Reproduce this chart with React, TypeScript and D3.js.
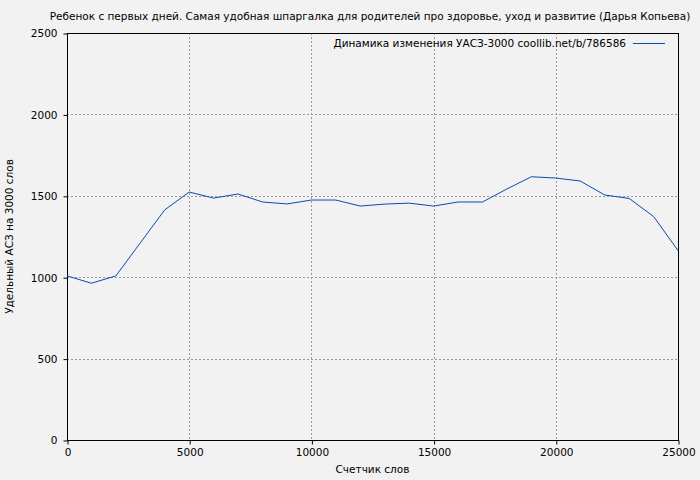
import React, { useEffect, useRef } from 'react';
import * as d3 from 'd3';

const title = 'Ребенок с первых дней. Самая удобная шпаргалка для родителей про здоровье, уход и развитие (Дарья Копьева)';
const legendLabel = 'Динамика изменения УАСЗ-3000 coollib.net/b/786586';
const xLabel = 'Счетчик слов';
const yLabel = 'Удельный АСЗ на 3000 слов';

const wordCounts = [0, 1000, 2000, 3000, 4000, 5000, 6000, 7000, 8000, 9000, 10000, 11000, 12000, 13000, 14000, 15000, 16000, 17000, 18000, 19000, 20000, 21000, 22000, 23000, 24000, 25000];
const values = [1008, 963, 1008, 1211, 1414, 1523, 1486, 1511, 1462, 1450, 1474, 1474, 1437, 1449, 1455, 1437, 1462, 1462, 1542, 1617, 1609, 1591, 1505, 1484, 1373, 1164];
const xTicks = [0, 5000, 10000, 15000, 20000, 25000];
const yTicks = [0, 500, 1000, 1500, 2000, 2500];

const width = 700;
const height = 480;

const App: React.FC = () => {
  const svgRef = useRef<SVGSVGElement>(null);

  useEffect(() => {
    if (!svgRef.current) return;
    const svg = d3.select(svgRef.current);
    svg.selectAll('*').remove();

    const margin = { top: 33, right: 22, bottom: 40, left: 67 };
    const innerWidth = width - margin.left - margin.right;
    const innerHeight = height - margin.top - margin.bottom;
    const font = '"DejaVu Sans", Verdana, sans-serif';
    const fs = '10.5px';

    svg.append('rect').attr('width', width).attr('height', height).attr('fill', '#f2f2f2');

    const g = svg.append('g').attr('transform', `translate(${margin.left},${margin.top})`);

    const x = d3.scaleLinear().domain([0, 25000]).range([0, innerWidth]);
    const y = d3.scaleLinear().domain([0, 2500]).range([innerHeight, 0]);

    // grid
    g.selectAll('.gx')
      .data(xTicks.slice(1, -1))
      .enter().append('line')
      .attr('x1', d => Math.round(x(d)) + 0.5)
      .attr('x2', d => Math.round(x(d)) + 0.5)
      .attr('y1', 0)
      .attr('y2', innerHeight)
      .attr('stroke', '#999')
      .attr('stroke-dasharray', '2,2');
    g.selectAll('.gy')
      .data(yTicks.slice(1, -1))
      .enter().append('line')
      .attr('y1', d => Math.round(y(d)) + 0.5)
      .attr('y2', d => Math.round(y(d)) + 0.5)
      .attr('x1', 0)
      .attr('x2', innerWidth)
      .attr('stroke', '#999')
      .attr('stroke-dasharray', '2,2');

    // frame
    g.append('rect')
      .attr('x', 0.5).attr('y', 0.5)
      .attr('width', innerWidth).attr('height', innerHeight)
      .attr('fill', 'none').attr('stroke', '#000');

    // axes
    const xAxis = g.append('g')
      .attr('transform', `translate(0.5,${innerHeight + 0.5})`)
      .call(d3.axisBottom(x).tickValues(xTicks).tickSize(4).tickPadding(4).tickFormat(d3.format('d')));
    const yAxis = g.append('g')
      .attr('transform', 'translate(0.5,0.5)')
      .call(d3.axisLeft(y).tickValues(yTicks).tickSize(4).tickPadding(6).tickFormat(d3.format('d')));
    [xAxis, yAxis].forEach(a => {
      a.select('.domain').remove();
      a.selectAll('text').style('font-family', font).style('font-size', fs).attr('fill', '#000');
    });

    // line
    const line = d3.line<number>()
      .x((_, i) => x(wordCounts[i]))
      .y(d => y(d));
    g.append('path')
      .datum(values)
      .attr('d', line)
      .attr('fill', 'none')
      .attr('stroke', '#0a4bb0')
      .attr('stroke-width', 1);

    // title
    svg.append('text')
      .attr('x', 370)
      .attr('y', 20)
      .attr('text-anchor', 'middle')
      .style('font-family', font)
      .style('font-size', fs)
      .text(title);

    // legend
    svg.append('text')
      .attr('x', 626)
      .attr('y', 47)
      .attr('text-anchor', 'end')
      .style('font-family', font)
      .style('font-size', fs)
      .text(legendLabel);
    svg.append('line')
      .attr('x1', 633).attr('x2', 665)
      .attr('y1', 43.5).attr('y2', 43.5)
      .attr('stroke', '#0a4bb0');

    // axis titles
    svg.append('text')
      .attr('x', margin.left + innerWidth / 2)
      .attr('y', 473)
      .attr('text-anchor', 'middle')
      .style('font-family', font)
      .style('font-size', fs)
      .text(xLabel);
    svg.append('text')
      .attr('transform', `translate(13,${margin.top + innerHeight / 2}) rotate(-90)`)
      .attr('text-anchor', 'middle')
      .style('font-family', font)
      .style('font-size', fs)
      .text(yLabel);
  }, []);

  return (
    <svg
      ref={svgRef}
      width={width}
      height={height}
      style={{ position: 'absolute', left: 0, top: 0, display: 'block' }}
    />
  );
};

export default App;
